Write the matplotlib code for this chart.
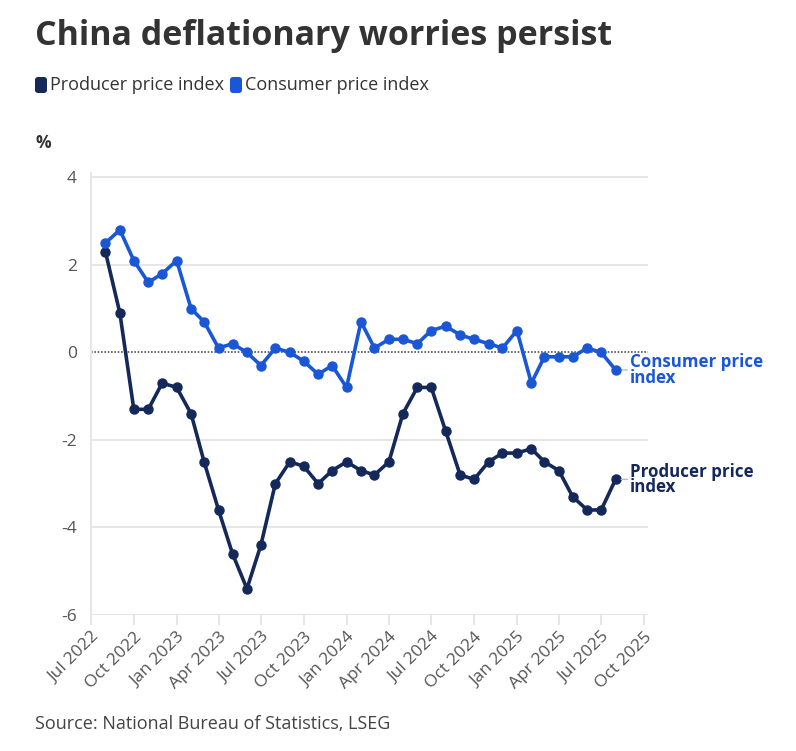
import matplotlib
matplotlib.use("Agg")
import matplotlib.pyplot as plt
import matplotlib.dates as mdates
from matplotlib.patches import FancyBboxPatch
import pandas as pd

months = pd.date_range("2022-08-01", "2025-08-01", freq="MS")
ppi = [2.3, 0.9, -1.3, -1.3, -0.7, -0.8, -1.4, -2.5, -3.6, -4.6, -5.4, -4.4,
       -3.0, -2.5, -2.6, -3.0, -2.7, -2.5, -2.7, -2.8, -2.5, -1.4, -0.8, -0.8,
       -1.8, -2.8, -2.9, -2.5, -2.3, -2.3, -2.2, -2.5, -2.7, -3.3, -3.6, -3.6,
       -2.9]
cpi = [2.5, 2.8, 2.1, 1.6, 1.8, 2.1, 1.0, 0.7, 0.1, 0.2, 0.0, -0.3,
       0.1, 0.0, -0.2, -0.5, -0.3, -0.8, 0.7, 0.1, 0.3, 0.3, 0.2, 0.5,
       0.6, 0.4, 0.3, 0.2, 0.1, 0.5, -0.7, -0.1, -0.1, -0.1, 0.1, 0.0,
       -0.4]
tick_dates = pd.date_range("2022-07-01", "2025-10-01", freq="3MS")
tick_labels = [d.strftime("%b %Y") for d in tick_dates]
y_ticks = [-6, -4, -2, 0, 2, 4]
series_names = ["Producer price index", "Consumer price index"]

PPI_C = "#14285a"
CPI_C = "#1a57d6"
TXT = "#333333"
FONT = "Open Sans"

W, H = 796, 751
fig = plt.figure(figsize=(W / 100, H / 100), dpi=100)
fig.patch.set_facecolor("white")

ax = fig.add_axes([91 / W, 1 - 615 / H, 557 / W, (615 - 173) / H])

ax.set_ylim(-6, 4.1)
x0 = mdates.date2num(pd.Timestamp("2022-07-01"))
x1 = mdates.date2num(pd.Timestamp("2025-10-01"))
ax.set_xlim(x0, x1 + (x1 - x0) * 4 / 553)

for yv in y_ticks:
    if yv == 0:
        continue
    ax.axhline(yv, color="#e6e6e6", lw=1.4, zorder=0)
ax.axhline(0, color="#555555", lw=1.2, ls=(0, (1, 1)), zorder=1)

ax.plot(months, ppi, color=PPI_C, lw=2.6, marker="o", ms=6.5, zorder=3,
        solid_joinstyle="round")
ax.plot(months, cpi, color=CPI_C, lw=2.6, marker="o", ms=6.5, zorder=4,
        solid_joinstyle="round")

for sp in ["top", "right", "bottom"]:
    ax.spines[sp].set_visible(False)
ax.spines["left"].set_color("#e6e6e6")
ax.spines["left"].set_linewidth(1.4)

ax.set_yticks(y_ticks)
ax.set_yticklabels([str(v) for v in y_ticks], fontsize=12.5, color="#555555",
                   family=FONT)
ax.tick_params(axis="y", length=0, pad=10)

ax.set_xticks(tick_dates)
ax.set_xticklabels(tick_labels, rotation=45, ha="right", rotation_mode="anchor",
                   fontsize=12.5, color="#555555", family=FONT)
ax.tick_params(axis="x", length=7, width=1.4, color="#e6e6e6", pad=3)

# end labels
last = months[-1]
for vals, name, col in [(cpi, series_names[1], CPI_C), (ppi, series_names[0], PPI_C)]:
    ax.annotate(name.replace(" index", "\nindex"), xy=(last, vals[-1]),
                xytext=(10.5, 0), textcoords="offset points", va="center", ha="left",
                fontsize=12.2, fontweight="bold", color=col, family=FONT,
                linespacing=0.8, annotation_clip=False,
                arrowprops=dict(arrowstyle="-", color="#bbbbbb", lw=1,
                                shrinkA=0, shrinkB=4))

# title
fig.text(35 / W, 1 - 36 / H, "China deflationary worries persist", fontsize=24.5,
         fontweight="bold", color=TXT, family=FONT, va="center", ha="left")

# legend
lx = 35
for name, col in zip(series_names, [PPI_C, CPI_C]):
    p = FancyBboxPatch((lx / W, 1 - 93 / H), 12 / W, 16 / H,
                       boxstyle="round,pad=0,rounding_size=0.004",
                       transform=fig.transFigure, facecolor=col, edgecolor="none")
    fig.add_artist(p)
    t = fig.text((lx + 15) / W, 1 - 85 / H, name, fontsize=13, color=TXT,
                 family=FONT, va="center", ha="left")
    fig.canvas.draw()
    bb = t.get_window_extent()
    lx = bb.x1 + 6

fig.text(35 / W, 1 - 143 / H, "%", fontsize=12.5, fontweight="bold", color=TXT,
         family=FONT, va="center", ha="left")

fig.text(35 / W, 1 - 724 / H, "Source: National Bureau of Statistics, LSEG",
         fontsize=13, color="#444444", family=FONT, va="center", ha="left")

fig.savefig("out.png", dpi=100, facecolor="white")
